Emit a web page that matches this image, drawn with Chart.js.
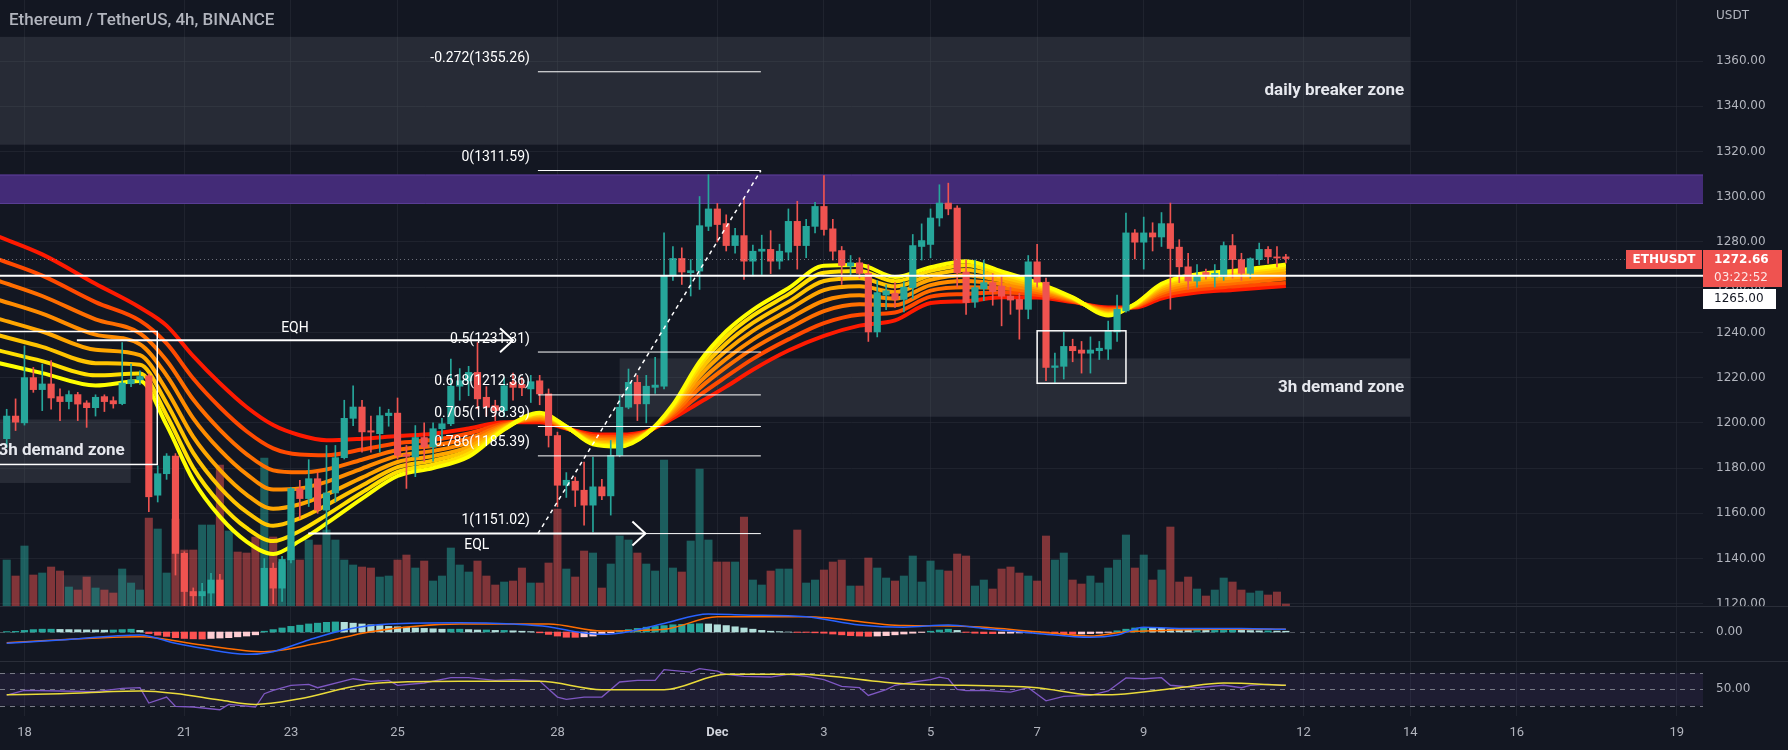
<!DOCTYPE html>
<html>
<head>
<meta charset="utf-8">
<script src="https://cdn.jsdelivr.net/npm/chart.js@4.4.1/dist/chart.umd.min.js"></script>
<style>
  html, body { margin: 0; padding: 0; background: #131722; }
  canvas { display: block; }
</style>
</head>
<body>
<canvas id="chart" width="1788" height="750"></canvas>
<script>
// ---- data (4h candles, index 0 = Nov 17 16:00) ----
const opens = [
  1193, 1203, 1200, 1220, 1214.7, 1217.2, 1211.6, 1209.4, 1212.5, 1208.8,
  1206.7, 1211.6, 1209.8, 1208.5, 1217.3, 1219, 1220.8, 1168, 1177.5, 1185.3,
  1142.3, 1125.4, 1123.5, 1124.7, 1130.5, 1098, 1108, 1101, 1096, 1092,
  1135.7, 1126.9, 1139.4, 1170.9, 1166.5, 1175.3, 1161.4, 1169, 1184.6, 1202,
  1207, 1196.5, 1195.2, 1203.2, 1204.3, 1186, 1184.9, 1193.5, 1189.3, 1197.4,
  1199.6, 1216.2, 1218.6, 1222.3, 1211.3, 1207.6, 1205.4, 1218, 1217, 1215,
  1218.6, 1212.8, 1194.4, 1172.4, 1174.2, 1170.2, 1163.6, 1171.7, 1167.7, 1185.6,
  1206.9, 1217.9, 1208.4, 1215.7, 1216.2, 1265.2, 1272.7, 1266.4, 1267.1, 1286.9,
  1294.6, 1288.1, 1278.4, 1282.8, 1271.5, 1275.9, 1276.7, 1271.5, 1275.5, 1289.1,
  1278.4, 1286.9, 1295.7, 1285.8, 1276.2, 1269.3, 1270.8, 1266.1, 1240.2, 1256.5,
  1257.3, 1254.6, 1259.8, 1278, 1278.9, 1290.6, 1297.2, 1295, 1266.7, 1253.4,
  1259.3, 1262, 1260.5, 1256, 1254.6, 1250.2, 1271.2, 1262.2, 1224.5, 1225,
  1233.8, 1232.2, 1230.8, 1231.9, 1232.6, 1240.2, 1249.5, 1284, 1279.9, 1284,
  1282.2, 1288.1, 1277.7, 1269, 1262.7, 1266.5, 1264.5, 1264.6, 1278.4, 1272.2,
  1266.1, 1272.2, 1276.7, 1273.4, 1273.4
];
const highs = [
  1206, 1210.6, 1234, 1224.5, 1226, 1227.5, 1215, 1214.2, 1213.5, 1209.8,
  1212.4, 1212.4, 1211.5, 1235.5, 1226, 1223, 1221.6, 1181, 1186.4, 1186.4,
  1143, 1127, 1129, 1133.4, 1133, 1112, 1113, 1108, 1104, 1140,
  1138, 1141, 1171.5, 1174.6, 1183.7, 1178, 1190, 1190, 1210, 1216.4,
  1210, 1203, 1207, 1206, 1211, 1190, 1198.8, 1200, 1200, 1202,
  1228.2, 1224, 1225, 1235.5, 1216, 1210, 1220, 1222, 1220, 1221,
  1221, 1215, 1195.9, 1178, 1176, 1182.7, 1184.9, 1175, 1192.2, 1212,
  1223.8, 1221, 1221, 1229, 1284, 1278, 1277.4, 1272.2, 1300.1, 1309.7,
  1297, 1292, 1286, 1299.4, 1278.6, 1283, 1285, 1279, 1294.6, 1298,
  1290, 1297.5, 1309.3, 1290, 1278, 1274, 1273, 1270, 1263, 1261,
  1262, 1262.5, 1283.3, 1288, 1294.6, 1305.3, 1306, 1296, 1272, 1272,
  1272, 1266, 1264.9, 1260, 1257.3, 1274, 1278.9, 1264, 1230.8, 1240,
  1237, 1236, 1238, 1236, 1245, 1256.5, 1292.8, 1285.5, 1291, 1288.5,
  1293, 1297.2, 1281, 1275, 1270, 1268, 1270, 1280, 1283.3, 1275,
  1273, 1279.5, 1278, 1278, 1274.5
];
const lows = [
  1189, 1196.6, 1199, 1213.5, 1205.4, 1206, 1201, 1206.2, 1201, 1198,
  1203, 1205, 1206.5, 1208, 1216, 1217, 1160.7, 1165, 1175, 1132.7,
  1115, 1110, 1112, 1118, 1073, 1090, 1095, 1088, 1081, 1088,
  1120, 1121, 1138, 1157.7, 1163, 1160, 1151, 1165, 1184, 1198.8,
  1187, 1187, 1187, 1198.5, 1184, 1171, 1176.2, 1183, 1183, 1193,
  1198.8, 1210, 1212, 1206.2, 1203, 1201, 1203, 1210, 1212, 1209,
  1208, 1189.3, 1162.9, 1167, 1163, 1154.8, 1151.8, 1166, 1159.2, 1185,
  1206.2, 1201, 1200, 1213, 1215, 1263, 1261.2, 1256.1, 1259, 1285,
  1280, 1276, 1275, 1263.4, 1265, 1265.6, 1266, 1268, 1272, 1268,
  1273, 1284, 1283, 1272, 1261.2, 1265, 1264, 1236, 1238, 1250,
  1251, 1249, 1255, 1272, 1273, 1287, 1292, 1260, 1248, 1251,
  1254, 1252, 1242.9, 1248, 1237, 1246, 1260, 1218.6, 1217.9, 1219.4,
  1227, 1222, 1222, 1228, 1228, 1236, 1248.9, 1272.5, 1268, 1276,
  1278, 1250.2, 1262, 1259, 1260, 1263.5, 1260, 1263, 1264, 1263,
  1264, 1270, 1270.5, 1269, 1270.7
];
const closes = [
  1203, 1200.3, 1220, 1214.7, 1217.2, 1211, 1209.4, 1212.5, 1208.3, 1206.7,
  1211.3, 1209.4, 1208.4, 1217.6, 1219, 1220.5, 1167.3, 1177.5, 1185.3, 1142.3,
  1125.4, 1123.5, 1125.4, 1130.5, 1098, 1108, 1101, 1096, 1092, 1135.7,
  1126.9, 1139.6, 1170.9, 1166.5, 1175.3, 1161.4, 1169, 1184.6, 1202, 1207,
  1196, 1195.9, 1203.2, 1204.3, 1185.6, 1185.2, 1193.5, 1189.3, 1197.4, 1199.6,
  1216.2, 1218.6, 1222.3, 1210.6, 1206.9, 1205.4, 1216.4, 1215.7, 1215.5, 1218.2,
  1212.8, 1194.4, 1172.4, 1174.6, 1170.2, 1163.6, 1171.7, 1167.7, 1185.6, 1206.9,
  1217.9, 1208.4, 1216.2, 1216.7, 1265.2, 1272.7, 1266.7, 1267.3, 1287.2, 1294.6,
  1287.7, 1278.4, 1282.8, 1271.5, 1275.9, 1276.8, 1271.5, 1275.9, 1289.1, 1278.4,
  1286.9, 1295.7, 1285.5, 1275.9, 1269.6, 1270.8, 1266.1, 1240.2, 1257.6, 1258.4,
  1254.6, 1260, 1278.4, 1280.6, 1290.6, 1297.2, 1294.6, 1266.4, 1253.2, 1259.8,
  1262, 1258, 1256, 1254.3, 1250.2, 1271.2, 1262.2, 1224.5, 1225.2, 1233.8,
  1231.9, 1230.8, 1232.2, 1233, 1240.7, 1250.2, 1284, 1279.9, 1284, 1282.2,
  1288.1, 1277.1, 1269, 1262.7, 1265.2, 1264.9, 1266.1, 1278.4, 1272.2, 1266.1,
  1272.6, 1276.7, 1273.4, 1272.9, 1272.66
];
// volume, thousands ETH (relative)
const volumes = [
  46, 30, 60, 31, 33, 39, 35, 19, 16, 29,
  18, 16, 13, 37, 23, 16, 88, 77, 33, 87,
  56, 56, 81, 81, 141, 75, 54, 53, 69, 148,
  69, 44, 60, 46, 66, 61, 76, 66, 46, 41,
  39, 38, 29, 30, 46, 51, 38, 45, 25, 30,
  58, 41, 34, 45, 30, 21, 24, 25, 38, 23,
  23, 43, 97, 37, 29, 55, 53, 18, 42, 70,
  66, 53, 42, 35, 146, 38, 34, 65, 137, 66,
  44, 44, 44, 89, 26, 21, 35, 37, 37, 76,
  23, 26, 36, 44, 46, 20, 20, 48, 38, 28,
  25, 30, 50, 24, 45, 36, 35, 52, 50, 20,
  26, 17, 37, 39, 33, 30, 25, 70, 46, 53,
  26, 22, 30, 23, 38, 46, 71, 38, 51, 26,
  36, 79, 24, 29, 17, 10, 16, 28, 24, 16,
  13, 15, 11, 14, 2
];

// EMA ribbon (fast yellow -> slow red), sampled at candle positions
const ribbonIdx = [-1, 4, 10, 15, 18, 21, 24, 27, 30, 33, 36, 40, 44, 48, 52, 56, 60, 63, 66, 69,
  72, 75, 78, 81, 84, 88, 92, 96, 100, 104, 108, 112, 116, 120, 124, 127, 130, 134, 138, 144];
const ema1 = [1226.5, 1222, 1216.5, 1218.5, 1199, 1174.6, 1158.5, 1147.5, 1142, 1147.8, 1155.5, 1166.5, 1176.5, 1180, 1185, 1197, 1204.5, 1198.4, 1190.5, 1189.5,
  1195, 1208, 1227, 1240.5, 1250, 1259.5, 1269.5, 1269.8, 1264.5, 1268.8, 1271.5, 1267, 1262, 1255.5, 1247.5, 1252.5, 1261.5, 1265.7, 1267.2, 1270];
const ema2 = [1232.1, 1227.3, 1221, 1221.8, 1203.4, 1180.1, 1164.4, 1153.5, 1147.7, 1152.2, 1159.2, 1169.2, 1178.3, 1181.5, 1186.3, 1197.3, 1204.1, 1198.3, 1191, 1190,
  1195.1, 1207.4, 1225.2, 1238.1, 1247.4, 1256.8, 1266.4, 1267.1, 1262.6, 1267.2, 1269.7, 1265.9, 1261.3, 1255.3, 1247.9, 1252.4, 1260.9, 1264.9, 1266.4, 1269.1];
const ema3 = [1238.8, 1233.6, 1226.4, 1225.7, 1208.7, 1186.7, 1171.5, 1160.6, 1154.5, 1157.8, 1163.6, 1172.3, 1180.4, 1183.3, 1187.8, 1197.7, 1203.6, 1198.2, 1191.5, 1190.7,
  1195.3, 1206.7, 1223, 1235.1, 1244.2, 1253.5, 1262.7, 1263.9, 1260.3, 1265.3, 1267.6, 1264.5, 1260.5, 1255, 1248.3, 1252.2, 1260.1, 1263.9, 1265.4, 1267.9];
const ema4 = [1246.1, 1240.4, 1232.3, 1229.9, 1214.4, 1193.8, 1179.2, 1168.3, 1162, 1164, 1168.4, 1175.8, 1182.7, 1185.3, 1189.4, 1198.2, 1203, 1198, 1192.1, 1191.4,
  1195.4, 1205.9, 1220.7, 1231.9, 1240.7, 1249.9, 1258.7, 1260.4, 1257.8, 1263.3, 1265.3, 1263, 1259.7, 1254.8, 1248.7, 1252, 1259.2, 1262.9, 1264.3, 1266.7];
const ema5 = [1254.5, 1248.3, 1239, 1234.8, 1221, 1202, 1188, 1177.3, 1170.5, 1171, 1173.9, 1179.8, 1185.4, 1187.6, 1191.3, 1198.7, 1202.4, 1197.9, 1192.8, 1192.2,
  1195.6, 1205, 1218, 1228.3, 1236.8, 1245.8, 1254, 1256.4, 1254.9, 1260.9, 1262.7, 1261.3, 1258.7, 1254.5, 1249.3, 1251.8, 1258.3, 1261.7, 1263, 1265.3];
const ema6 = [1262.9, 1256.1, 1245.8, 1239.6, 1227.6, 1210.3, 1196.9, 1186.2, 1179, 1178.1, 1179.4, 1183.7, 1188, 1189.9, 1193.1, 1199.1, 1201.8, 1197.7, 1193.4, 1193,
  1195.8, 1204.1, 1215.3, 1224.6, 1232.8, 1241.6, 1249.4, 1252.4, 1252, 1258.5, 1260, 1259.5, 1257.7, 1254.1, 1249.8, 1251.5, 1257.3, 1260.4, 1261.7, 1263.8];
const ema7 = [1272.4, 1265.1, 1253.4, 1245.2, 1235.1, 1219.6, 1206.9, 1196.3, 1188.7, 1186, 1185.7, 1188.2, 1191, 1192.5, 1195.3, 1199.7, 1201.1, 1197.6, 1194.2, 1193.8,
  1196, 1203.1, 1212.2, 1220.4, 1228.3, 1236.9, 1244.1, 1247.8, 1248.8, 1255.8, 1257, 1257.6, 1256.6, 1253.8, 1250.4, 1251.3, 1256.2, 1259, 1260.3, 1261.9];
const ema8 = [1282.5, 1274.5, 1261.5, 1251, 1243, 1229.5, 1217.5, 1207, 1199, 1194.5, 1192.3, 1193, 1194.2, 1195.2, 1197.5, 1200.3, 1200.3, 1197.5, 1195, 1194.8,
  1196.2, 1202, 1209, 1216, 1223.5, 1232, 1238.5, 1243, 1245.3, 1253, 1253.8, 1255.5, 1255.4, 1253.4, 1251, 1251, 1255, 1257.6, 1258.8, 1260.5];

// MACD pane
const macdHist = [
  0.5, 0.8, 2, 3, 3.5, 3.5, 3.2, 3, 2.8, 2.6,
  2.5, 2.3, 2.5, 3, 3.5, 2, -2, -4, -5.5, -7,
  -8, -8.5, -8.7, -8, -7.5, -7, -6, -5, -3.5, 1,
  3, 5, 7, 8.5, 10, 11, 12, 12.5, 12, 11,
  10, 9, 8, 7, 6.5, 6, 5, 4.5, 4, 3.5,
  3.5, 3.5, 3, 2.5, 2.5, 2, 2, 1.5, 1, 0.5,
  -1, -3, -5, -6.5, -6.6, -6, -5, -3, -1, 1.5,
  3, 4.5, 6, 7, 8, 9, 9.5, 10, 10.3, 10,
  9, 8, 6.5, 5, 3.5, 2, 1, 0.5, 0, -0.5,
  -0.5, -1, -1.5, -2.5, -3.5, -4.5, -5, -5.4, -5, -4.5,
  -3.5, -2.5, -1.5, -0.5, 1, 2.5, 3.5, 2, -0.5, -1.5,
  -2, -2, -1.8, -1.5, -1.2, -1, 0.5, -1, -2, -2.5,
  -2.7, -2.5, -2, -1.5, -0.5, 1.5, 3.5, 5, 5.8, 5.5,
  4.5, 3.5, 3, 2.5, 2.5, 2, 2, 2, 2.2, 2,
  1.8, 1.5, 1.5, 1.2, 1
];
const macdIdx = [0, 6, 15, 19, 22, 27, 30, 34, 38, 43, 51, 57, 61, 64, 67, 70, 74, 79, 83, 90,
  96, 101, 106, 110, 116, 122, 125, 128, 132, 139, 144];
const macdVals = [-14, -9.9, -3.7, -14, -20.3, -27.7, -24.4, -9.9, 2.5, 9.9, 11.6, 9.9, 6.6, 0.4, -2.9, 0.4, 10.7, 22.3, 21.1, 19,
  8.7, 6, 8.7, 4.5, -1.7, -6.6, -3.7, 5.8, 4.5, 4.5, 3.3];
const signalIdx = [0, 15, 22, 29, 35, 41, 51, 61, 67, 74, 80, 90, 101, 107, 116, 122, 126, 129, 136, 144];
const signalVals = [-13.2, -5.8, -16.1, -24.4, -14, 0.4, 9.9, 9.9, 1.2, 3.3, 19, 19, 8, 7.4, 0.4, -5, 0.4, 1.6, 3.3, 3.3];

// RSI pane
const rsiIdx = [0, 2, 6, 10, 13, 15, 16, 18, 19, 21, 24, 25, 28, 29, 30, 32, 34, 35, 39, 41,
  43, 44, 47, 50, 52, 55, 57, 60, 62, 63, 65, 67, 69, 71, 73, 74, 77, 78, 80, 81,
  83, 86, 88, 90, 92, 94, 96, 97, 99, 100, 102, 104, 105, 106, 107, 108, 110, 113, 115, 117,
  119, 122, 124, 126, 128, 130, 131, 134, 137, 139, 140, 142, 144];
const rsiVals = [43, 48.8, 48, 47.2, 51.2, 52, 33.3, 40.6, 29.2, 28.4, 25.1, 31.6, 28.4, 44.7, 48.8, 54.9, 56.1, 52, 63, 59.8,
  61, 54.9, 57.8, 64.3, 64.3, 61, 61.8, 60.2, 40.6, 37.7, 40.6, 40.6, 59, 61, 61, 74.1, 71.2, 75.3, 72.4, 68.4,
  65.9, 65.1, 68.4, 65.9, 61.8, 53.7, 52, 42.6, 49.6, 55, 59, 62, 65, 63, 50, 48.5, 48.8, 46.7, 52, 36,
  41.4, 42.6, 48, 64, 63, 64.3, 55, 52, 55, 52, 55, 56, 54.9];
const rsiMaIdx = [0, 6, 15, 19, 24, 28, 33, 41, 51, 60, 67, 74, 81, 89, 101, 116, 122, 125, 132, 137, 144];
const rsiMaVals = [43.4, 44.7, 48, 45, 37, 31.6, 38.5, 56.9, 59.8, 59.8, 49.6, 49.6, 68.4, 68.4, 56.9, 52, 43.4, 43.8, 52, 57.8, 54.9];

// time axis
const tickIdx = [2, 20, 32, 44, 62, 80, 92, 104, 116, 128, 146, 158, 170, 188];
const tickLabels = ['18', '21', '23', '25', '28', 'Dec', '3', '5', '7', '9', '12', '14', '16', '19'];
const priceTicks = [1120, 1140, 1160, 1180, 1200, 1220, 1240, 1260, 1280, 1300, 1320, 1340, 1360];

// drawings
const fibLevels = ['-0.272', '0', '0.5', '0.618', '0.705', '0.786', '1'];
const fibPrices = [1355.26, 1311.59, 1231.31, 1212.36, 1198.39, 1185.39, 1151.02];
const fibSpan = [59.8, 84.9];
const eqhSpan = [7.9, 57.0], eqhPrice = 1236.5;
const eqlSpan = [33.95, 71.9], eqlPrice = 1151.1;
const keyLevel = 1265;
const zoneNames = ['daily breaker zone', '3h demand zone', '3h demand zone', ''];
const zoneFrom = [-3, 69.0, -3, 6.3];
const zoneTo = [158.0, 158.0, 13.96, 15.35];
const zoneTop = [1370.7, 1228.5, 1201.5, 1132.6];
const zoneBottom = [1323.0, 1202.7, 1173.4, 1100];
const purpleBand = [1309.8, 1296.8];
const boxFrom = [-3, 116.0], boxTo = [16.95, 126.0];
const boxTop = [1240.4, 1240.7], boxBottom = [1181.6, 1217.5];

// ---- layout ----
const W = 1788, H = 750, AXIS_W = 85, TIME_H = 34;
const PLOT_H = H - TIME_H;
const PANES = { price: [0, 606], macd: [606, 661], rsi: [661, 716] };
const TEAL = '#26a69a', RED = '#ef5350', TXT = '#b2b5be', BG = '#131722';

// extend a pane's value range to the full plot height (all axes share the plot area)
function fullRange(vTop, vBot, pane) {
  const k = (vTop - vBot) / (pane[1] - pane[0]);
  return { min: vBot - (PLOT_H - pane[1]) * k, max: vTop + pane[0] * k };
}
const priceR = fullRange(1387, 1119, PANES.price);
const volR = fullRange(606, 0, PANES.price);
const macdR = fullRange(32.3, -36, PANES.macd);
const rsiR = fullRange(84.7, 17.4, PANES.rsi);

const isUp = i => closes[i] >= opens[i];
const pts = (xs, ys) => xs.map((x, k) => ({ x: x, y: ys[k] }));

const datasets = [];
datasets.push({
  type: 'bar', pane: 'price', yAxisID: 'yVol', order: 30, grouped: false,
  data: volumes.map((v, i) => ({ x: i, y: v })),
  backgroundColor: volumes.map((v, i) => isUp(i) ? 'rgba(38,166,154,0.5)' : 'rgba(239,83,80,0.5)'),
  barThickness: 7.4
});
const ribbon = [ema8, ema7, ema6, ema5, ema4, ema3, ema2, ema1];
const ribbonColors = ['#ff1a00', '#ff4a00', '#ff6e00', '#ff8c00', '#ffa600', '#ffc300', '#ffdf00', '#ffff00'];
ribbon.forEach((arr, k) => {
  datasets.push({
    type: 'line', pane: 'price', yAxisID: 'y', order: 20 - k,
    data: pts(ribbonIdx, arr), borderColor: ribbonColors[k], borderWidth: 4,
    pointRadius: 0, cubicInterpolationMode: 'monotone', fill: false
  });
});
datasets.push({
  type: 'bar', pane: 'price', yAxisID: 'y', order: 6, grouped: false,
  data: highs.map((h, i) => ({ x: i, y: [lows[i], h] })),
  backgroundColor: highs.map((h, i) => isUp(i) ? TEAL : RED), barThickness: 1
});
datasets.push({
  type: 'bar', pane: 'price', yAxisID: 'y', order: 5, grouped: false,
  data: opens.map((o, i) => ({ x: i, y: [o, closes[i]] })),
  backgroundColor: opens.map((o, i) => isUp(i) ? TEAL : RED), barThickness: 6.5, minBarLength: 1
});
fibPrices.forEach(p => {
  datasets.push({
    type: 'line', pane: 'price', yAxisID: 'y', order: 2,
    data: [{ x: fibSpan[0], y: p }, { x: fibSpan[1], y: p }],
    borderColor: '#ffffff', borderWidth: 1, pointRadius: 0
  });
});
datasets.push({
  type: 'line', pane: 'price', yAxisID: 'y', order: 2,
  data: [{ x: fibSpan[0], y: fibPrices[6] }, { x: fibSpan[1], y: fibPrices[1] }],
  borderColor: '#ffffff', borderWidth: 1.5, borderDash: [4, 4], pointRadius: 0
});
datasets.push({
  type: 'line', pane: 'price', yAxisID: 'y', order: 2,
  data: [{ x: eqhSpan[0], y: eqhPrice }, { x: eqhSpan[1], y: eqhPrice }],
  borderColor: '#ffffff', borderWidth: 2, pointRadius: 0
});
datasets.push({
  type: 'line', pane: 'price', yAxisID: 'y', order: 2,
  data: [{ x: eqlSpan[0], y: eqlPrice }, { x: eqlSpan[1], y: eqlPrice }],
  borderColor: '#ffffff', borderWidth: 2, pointRadius: 0
});
// MACD
const histColors = macdHist.map((v, i) => {
  const prev = i ? macdHist[i - 1] : v;
  if (v >= 0) return v >= prev ? '#26a69a' : '#b2dfdb';
  return v <= prev ? '#ff5252' : '#ffcdd2';
});
datasets.push({
  type: 'bar', pane: 'macd', yAxisID: 'yMacd', order: 4, grouped: false,
  data: macdHist.map((v, i) => ({ x: i, y: v })), backgroundColor: histColors, barThickness: 6.5
});
datasets.push({
  type: 'line', pane: 'macd', yAxisID: 'yMacd', order: 3, data: pts(macdIdx, macdVals),
  borderColor: '#2962ff', borderWidth: 1.5, pointRadius: 0, cubicInterpolationMode: 'monotone'
});
datasets.push({
  type: 'line', pane: 'macd', yAxisID: 'yMacd', order: 3, data: pts(signalIdx, signalVals),
  borderColor: '#ff6d00', borderWidth: 1.5, pointRadius: 0, cubicInterpolationMode: 'monotone'
});
// RSI
datasets.push({
  type: 'line', pane: 'rsi', yAxisID: 'yRsi', order: 3, data: pts(rsiIdx, rsiVals),
  borderColor: '#7e57c2', borderWidth: 1.3, pointRadius: 0, tension: 0
});
datasets.push({
  type: 'line', pane: 'rsi', yAxisID: 'yRsi', order: 2, data: pts(rsiMaIdx, rsiMaVals),
  borderColor: '#eadb3a', borderWidth: 1.5, pointRadius: 0, cubicInterpolationMode: 'monotone'
});

// ---- plugins ----
const paneClip = {
  id: 'paneClip',
  beforeDatasetDraw(chart, args) {
    const p = PANES[chart.data.datasets[args.index].pane || 'price'];
    const a = chart.chartArea, c = chart.ctx;
    c.save();
    c.beginPath();
    c.rect(a.left, p[0], a.right - a.left, p[1] - p[0]);
    c.clip();
  },
  afterDatasetDraw(chart) { chart.ctx.restore(); }
};

const background = {
  id: 'background',
  beforeDraw(chart) {
    const c = chart.ctx;
    c.save();
    c.fillStyle = BG;
    c.fillRect(0, 0, chart.width, chart.height);
    c.restore();
  },
  beforeDatasetsDraw(chart) {
    const c = chart.ctx, a = chart.chartArea, x = chart.scales.x, y = chart.scales.y;
    c.save();
    c.beginPath();
    c.rect(a.left, PANES.price[0], a.right - a.left, PANES.price[1] - PANES.price[0]);
    c.clip();
    // zones
    c.fillStyle = 'rgba(120,123,134,0.2)';
    zoneNames.forEach((n, k) => {
      const x0 = x.getPixelForValue(zoneFrom[k]), x1 = x.getPixelForValue(zoneTo[k]);
      const y0 = y.getPixelForValue(zoneTop[k]), y1 = y.getPixelForValue(zoneBottom[k]);
      c.fillRect(x0, y0, x1 - x0, y1 - y0);
    });
    // purple band
    const py0 = y.getPixelForValue(purpleBand[0]), py1 = y.getPixelForValue(purpleBand[1]);
    c.fillStyle = '#432b77';
    c.fillRect(a.left, py0, a.right - a.left, py1 - py0);
    c.strokeStyle = '#5b3f96';
    c.lineWidth = 1;
    c.beginPath();
    c.moveTo(a.left, py0 + 0.5); c.lineTo(a.right, py0 + 0.5);
    c.moveTo(a.left, py1 - 0.5); c.lineTo(a.right, py1 - 0.5);
    c.stroke();
    c.restore();

    // RSI band and levels
    const r = chart.scales.yRsi;
    c.save();
    c.fillStyle = 'rgba(126,87,194,0.1)';
    c.fillRect(a.left, r.getPixelForValue(70), a.right - a.left, r.getPixelForValue(30) - r.getPixelForValue(70));
    c.strokeStyle = '#787b86';
    c.lineWidth = 1;
    c.setLineDash([5, 5]);
    [70, 50, 30].forEach(v => {
      const yy = Math.round(r.getPixelForValue(v)) + 0.5;
      c.beginPath(); c.moveTo(a.left, yy); c.lineTo(a.right, yy); c.stroke();
    });
    const m = chart.scales.yMacd;
    const my = Math.round(m.getPixelForValue(0)) + 0.5;
    c.strokeStyle = 'rgba(120,123,134,0.6)';
    c.beginPath(); c.moveTo(a.left, my); c.lineTo(a.right, my); c.stroke();
    c.restore();
  }
};

const overlay = {
  id: 'overlay',
  afterDatasetsDraw(chart) {
    const c = chart.ctx, a = chart.chartArea, x = chart.scales.x, y = chart.scales.y;
    c.save();
    c.beginPath();
    c.rect(a.left, PANES.price[0], a.right - a.left, PANES.price[1] - PANES.price[0]);
    c.clip();

    // outlined boxes
    c.strokeStyle = '#ffffff';
    c.lineWidth = 1.5;
    boxFrom.forEach((b, k) => {
      const x0 = x.getPixelForValue(b), x1 = x.getPixelForValue(boxTo[k]);
      const y0 = y.getPixelForValue(boxTop[k]), y1 = y.getPixelForValue(boxBottom[k]);
      c.strokeRect(x0, y0, x1 - x0, y1 - y0);
    });

    // current price dotted line
    const last = closes.length - 1;
    const cy = Math.round(y.getPixelForValue(closes[last])) + 0.5;
    c.strokeStyle = 'rgba(178,181,190,0.55)';
    c.lineWidth = 1;
    c.setLineDash([1, 3]);
    c.beginPath(); c.moveTo(a.left, cy); c.lineTo(a.right, cy); c.stroke();
    c.setLineDash([]);

    // key level
    const ky = y.getPixelForValue(keyLevel);
    c.strokeStyle = '#ffffff';
    c.lineWidth = 2;
    c.beginPath(); c.moveTo(a.left, ky); c.lineTo(a.right, ky); c.stroke();

    // EQ arrows
    [[eqhSpan[1], eqhPrice], [eqlSpan[1], eqlPrice]].forEach(([ix, p]) => {
      const ex = x.getPixelForValue(ix), ey = y.getPixelForValue(p);
      c.beginPath();
      c.moveTo(ex - 13, ey - 12); c.lineTo(ex, ey); c.lineTo(ex - 13, ey + 12);
      c.stroke();
    });

    // texts
    c.fillStyle = '#ffffff';
    c.textBaseline = 'middle';
    c.font = '14px Roboto';
    c.textAlign = 'right';
    const fx = x.getPixelForValue(fibSpan[0]) - 8;
    fibLevels.forEach((lv, k) => {
      c.fillText(lv + '(' + fibPrices[k].toFixed(2) + ')', fx, y.getPixelForValue(fibPrices[k]) - 13);
    });
    c.textAlign = 'center';
    c.fillText('EQH', (x.getPixelForValue(eqhSpan[0]) + x.getPixelForValue(eqhSpan[1])) / 2, y.getPixelForValue(eqhPrice) - 12);
    c.fillText('EQL', (x.getPixelForValue(eqlSpan[0]) + x.getPixelForValue(eqlSpan[1])) / 2, y.getPixelForValue(eqlPrice) + 12);

    c.font = 'bold 17px Roboto';
    c.fillStyle = '#e6e8ee';
    c.textAlign = 'right';
    zoneNames.forEach((n, k) => {
      if (!n) return;
      const tx = x.getPixelForValue(zoneTo[k]) - 6;
      const ty = (y.getPixelForValue(zoneTop[k]) + y.getPixelForValue(zoneBottom[k])) / 2;
      c.fillText(n, tx, ty);
    });
    c.restore();
  },
  afterDraw(chart) {
    const c = chart.ctx, a = chart.chartArea, y = chart.scales.y;
    c.save();
    // pane separators
    c.strokeStyle = '#2a2e39';
    c.lineWidth = 1;
    [PANES.price[1], PANES.macd[1]].forEach(sy => {
      c.beginPath(); c.moveTo(0, sy + 0.5); c.lineTo(W, sy + 0.5); c.stroke();
    });
    // title
    c.fillStyle = TXT;
    c.textBaseline = 'middle';
    c.textAlign = 'left';
    c.font = '500 17px Roboto';
    c.fillText('Ethereum / TetherUS, 4h, BINANCE', 9, 21);
    // axis extras
    c.font = '12px "DejaVu Sans"';
    c.fillText('USDT', a.right + 13, 16);
    c.fillText('0.00', a.right + 13, chart.scales.yMacd.getPixelForValue(0));
    c.fillText('50.00', a.right + 13, chart.scales.yRsi.getPixelForValue(50));

    // last price tags
    const last = closes.length - 1;
    const cy = Math.round(y.getPixelForValue(closes[last]));
    c.fillStyle = RED;
    c.fillRect(a.right - 77, cy - 9, 76, 19);
    c.fillRect(a.right, cy - 9, 79, 37);
    c.fillStyle = '#ffffff';
    c.font = 'bold 12px "DejaVu Sans"';
    c.textAlign = 'center';
    c.fillText('ETHUSDT', a.right - 39, cy + 1);
    c.textAlign = 'left';
    c.fillText(closes[last].toFixed(2), a.right + 11, cy + 1);
    c.font = '12px "DejaVu Sans"';
    c.fillStyle = 'rgba(255,255,255,0.85)';
    c.fillText('03:22:52', a.right + 11, cy + 19);
    c.fillStyle = '#ffffff';
    c.fillRect(a.right, cy + 30, 73, 20);
    c.fillStyle = '#131722';
    c.fillText(keyLevel.toFixed(2), a.right + 11, cy + 40);
    c.restore();
  }
};

new Chart(document.getElementById('chart'), {
  type: 'line',
  data: { datasets: datasets },
  options: {
    responsive: false,
    animation: false,
    devicePixelRatio: 1,
    events: [],
    layout: { padding: 0 },
    plugins: { legend: { display: false }, tooltip: { enabled: false } },
    scales: {
      x: {
        type: 'linear', min: -0.754, max: 190.96, offset: false,
        afterFit: s => { s.height = TIME_H; s.paddingLeft = 0; s.paddingRight = 0; },
        afterBuildTicks: s => { s.ticks = tickIdx.map(v => ({ value: v })); },
        border: { display: false },
        grid: { color: 'rgba(42,46,57,0.55)', drawTicks: false, offset: false },
        ticks: {
          autoSkip: false, maxRotation: 0, padding: 9,
          color: c => (c.tick && c.tick.label === 'Dec') ? '#d1d4dc' : TXT,
          font: c => ({ family: 'Roboto', size: 13, weight: (c.tick && c.tick.label === 'Dec') ? 'bold' : 'normal' }),
          callback: (v, i) => tickLabels[i]
        }
      },
      y: {
        type: 'linear', position: 'right', min: priceR.min, max: priceR.max,
        afterFit: s => { s.width = AXIS_W; s.paddingTop = 0; s.paddingBottom = 0; },
        afterBuildTicks: s => { s.ticks = priceTicks.map(v => ({ value: v })); },
        border: { display: false },
        grid: { color: 'rgba(42,46,57,0.55)', drawTicks: false },
        ticks: { color: TXT, padding: 13, font: { family: 'DejaVu Sans', size: 12 }, callback: v => v.toFixed(2) }
      },
      yVol: { type: 'linear', position: 'right', display: false, min: volR.min, max: volR.max },
      yMacd: { type: 'linear', position: 'right', display: false, min: macdR.min, max: macdR.max },
      yRsi: { type: 'linear', position: 'right', display: false, min: rsiR.min, max: rsiR.max }
    }
  },
  plugins: [background, paneClip, overlay]
});
</script>
</body>
</html>
